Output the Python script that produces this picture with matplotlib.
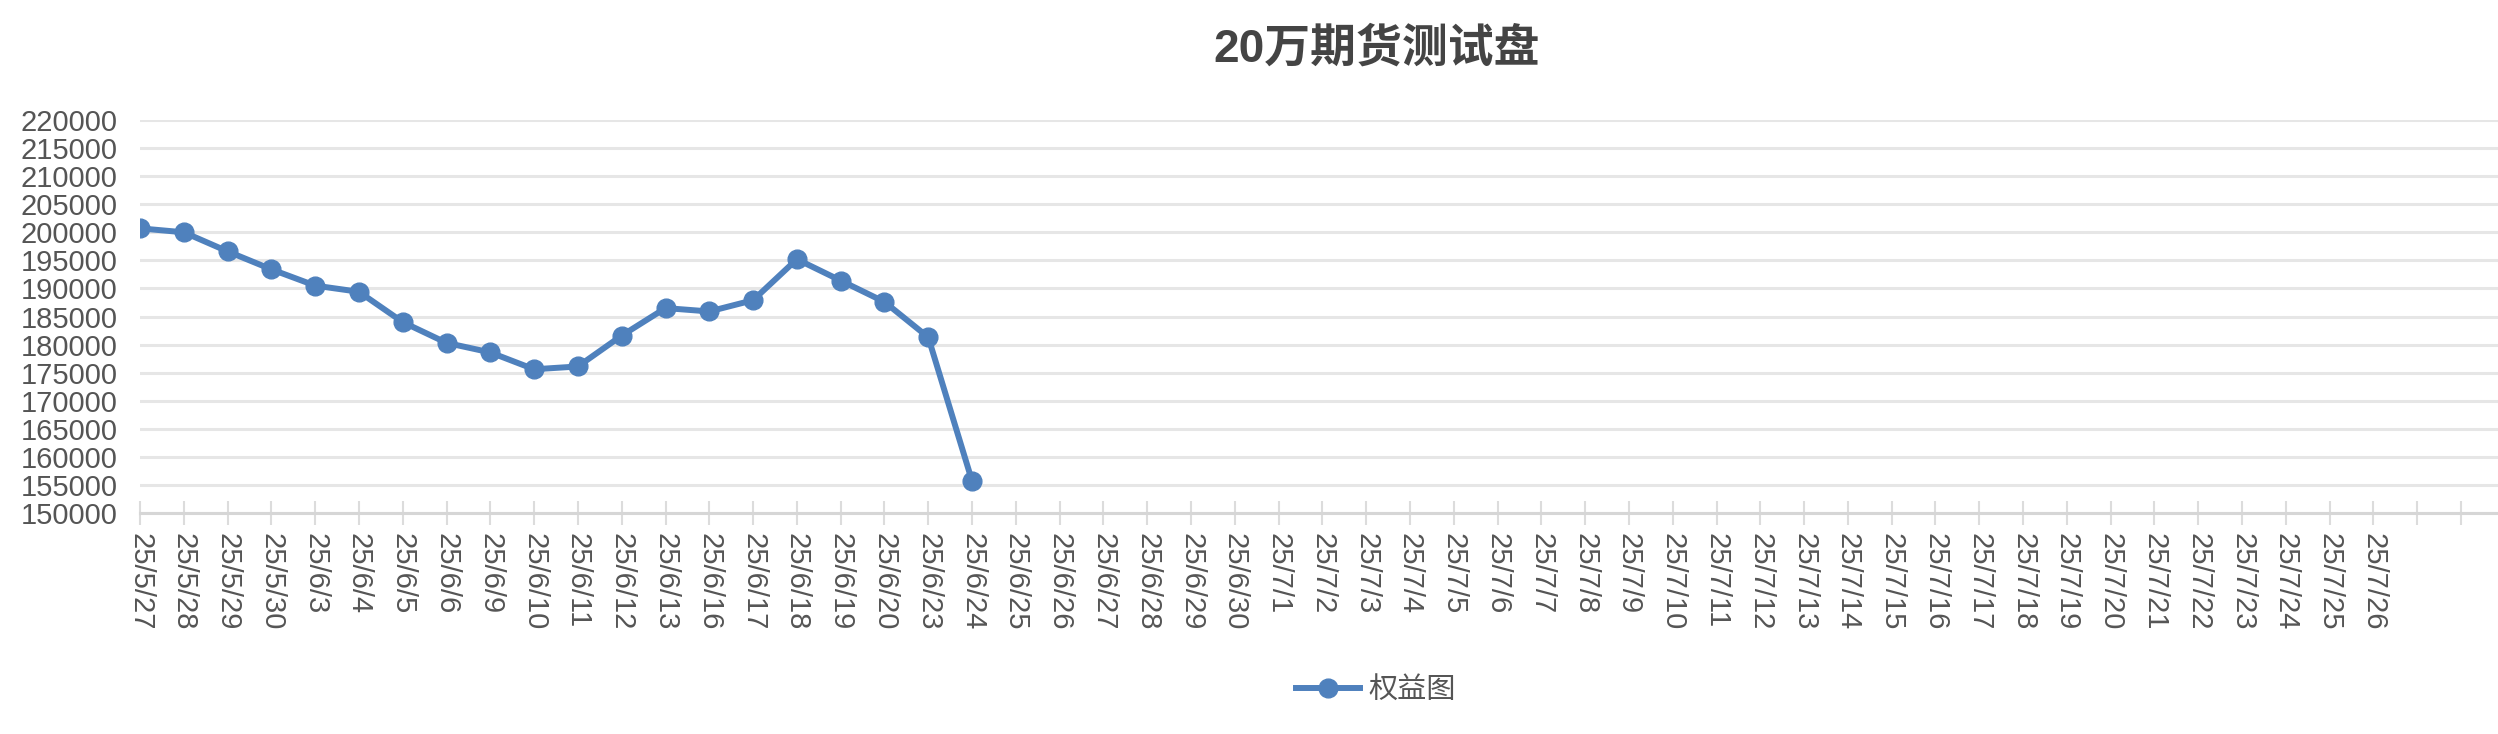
import matplotlib
matplotlib.use("Agg")
import matplotlib.pyplot as plt

# ---- data ----
dates = ["25/5/27", "25/5/28", "25/5/29", "25/5/30",
         "25/6/3", "25/6/4", "25/6/5", "25/6/6", "25/6/9", "25/6/10", "25/6/11",
         "25/6/12", "25/6/13", "25/6/16", "25/6/17", "25/6/18", "25/6/19",
         "25/6/20", "25/6/23", "25/6/24", "25/6/25", "25/6/26", "25/6/27",
         "25/6/28", "25/6/29", "25/6/30",
         "25/7/1", "25/7/2", "25/7/3", "25/7/4", "25/7/5", "25/7/6", "25/7/7",
         "25/7/8", "25/7/9", "25/7/10", "25/7/11", "25/7/12", "25/7/13",
         "25/7/14", "25/7/15", "25/7/16", "25/7/17", "25/7/18", "25/7/19",
         "25/7/20", "25/7/21", "25/7/22", "25/7/23", "25/7/24", "25/7/25",
         "25/7/26", "", ""]
equity = [200700, 200000, 196600, 193400, 190500, 189400, 184000, 180300,
          178600, 175600, 176100, 181600, 186500, 185900, 187900, 195200,
          191400, 187600, 181300, 155700]
y_ticks = list(range(150000, 220001, 5000))
title = "20万期货测试盘"
series_name = "权益图"

W, H = 2498, 734
fig = plt.figure(figsize=(W / 100, H / 100), dpi=100)
left_px, right_px, top_px, bottom_px = 140, 2498, 120, 513
ax = fig.add_axes([left_px / W, 1 - bottom_px / H,
                   (right_px - left_px) / W, (bottom_px - top_px) / H])

line_color = "#4F81BD"
ax.plot(range(len(equity)), equity, color=line_color, lw=4.3,
        marker="o", markersize=13.5, label=series_name, zorder=3,
        solid_joinstyle="round")

step = (2461 - 140) / 53
ax.set_xlim(0, (right_px - left_px) / step)
ax.set_ylim(150000, 220000)

ax.set_xticks(range(len(dates)))
ax.set_xticklabels(dates, rotation=-90, fontsize=21, color="#555555",
                   family=["Liberation Sans", "DejaVu Sans"])
ax.set_yticks(y_ticks)
ax.set_yticklabels([str(v) for v in y_ticks], fontsize=21, color="#555555",
                   family=["Liberation Sans", "DejaVu Sans"])

ax.tick_params(axis="x", direction="inout", length=17, width=1.5,
               color="#dcdcdc", pad=6)
ax.tick_params(axis="y", length=0, pad=16)

for s in ["top", "right", "left"]:
    ax.spines[s].set_visible(False)
ax.spines["bottom"].set_color("#d6d6d6")
ax.spines["bottom"].set_linewidth(2.2)

ax.yaxis.grid(True, color="#e6e6e6", lw=2.2)
ax.set_axisbelow(True)

fig.text(1377 / W, 1 - 50 / H, title, ha="center", va="center",
         fontsize=33, fontweight="bold", color="#444444",
         family=["Liberation Sans", "Noto Sans CJK SC"])

leg = ax.legend(loc="center", bbox_to_anchor=(1376 / W, 1 - 690 / H),
                bbox_transform=fig.transFigure, frameon=False,
                handlelength=2.2, handletextpad=0.3,
                prop={"family": ["Noto Sans CJK SC", "DejaVu Sans"], "size": 21})
for t in leg.get_texts():
    t.set_color("#555555")

fig.savefig("out.png", dpi=100)
